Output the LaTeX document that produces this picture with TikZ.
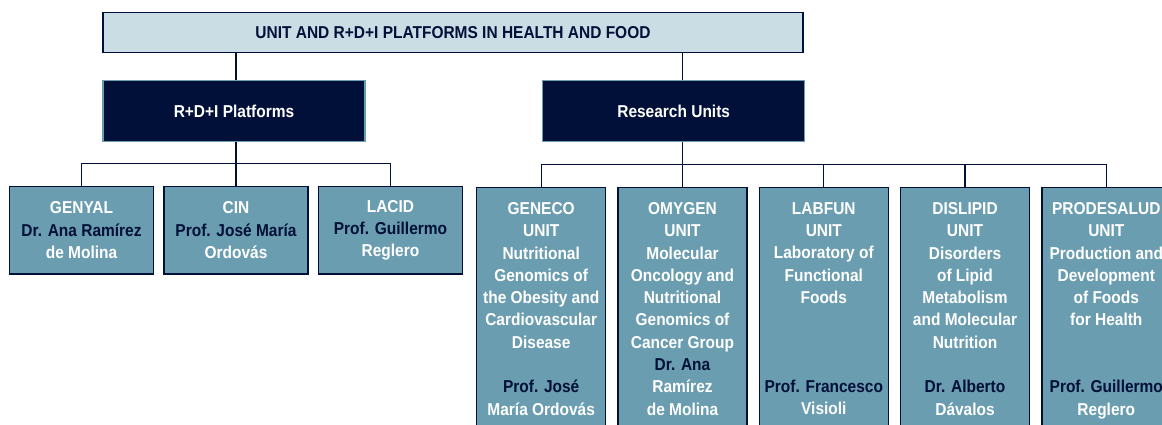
\documentclass[tikz,border=0pt]{standalone}
\usepackage{fontspec}
\setmainfont{Liberation Sans}[FakeStretch=0.9]
\usepackage{tikz}

\definecolor{navy}{RGB}{0,16,56}
\definecolor{pale}{RGB}{203,221,228}
\definecolor{steel}{RGB}{106,157,176}

\begin{document}
\begin{tikzpicture}[x=1pt,y=-1pt]
  \tikzstyle{title}=[rectangle,draw=navy,fill=pale,text=navy,line width=1.4pt,
              minimum width=700pt,minimum height=40pt,
              font=\fontsize{17.2}{22.3}\selectfont\bfseries]
  \tikzstyle{branch}=[rectangle,draw=steel,fill=navy,text=white,line width=1.4pt,
              minimum width=262pt,minimum height=61pt,
              font=\fontsize{17.2}{22.3}\selectfont\bfseries]
  \tikzstyle{platform}=[rectangle,draw=navy,fill=steel,text=white,line width=1.4pt,
              minimum width=144pt,minimum height=87.3pt,align=center,
              font=\fontsize{17.2}{22.3}\selectfont\bfseries]
  \tikzstyle{unitbox}=[platform,minimum width=129pt,minimum height=0pt,
              inner ysep=15pt,anchor=north]
  \tikzstyle{link}=[draw=navy,line width=1.2pt]
  \path[use as bounding box,clip] (0,0) rectangle (1162,424);
    \node [title] (head) at (453,32.7) {UNIT AND R+D+I PLATFORMS IN HEALTH AND FOOD};
    \node [branch] (rdi) at (234,111.2) {R+D+I Platforms};
    \node [branch] (research) at (673.7,111.2) {Research Units};
    % platforms
    \node [platform] (genyal) at (81.5,230.3) {GENYAL\\\color{navy}Dr. Ana Ramírez\\de Molina};
    \node [platform] (cin) at (236,230.3) {CIN\\\color{navy}Prof. José María\\Ordovás};
    \node [platform] (lacid) at (390.5,230.3) {LACID\\\color{navy}Prof. Guillermo\\Reglero};
    % research units
    \node [unitbox] (geneco) at (541.2,186.7) {GENECO\\UNIT\\Nutritional\\Genomics of\\the Obesity and\\Cardiovascular\\Disease\\~\\\color{navy}Prof. José\\María Ordovás};
    \node [unitbox] (omygen) at (682.5,186.7) {OMYGEN\\UNIT\\Molecular\\Oncology and\\Nutritional\\Genomics of\\Cancer Group\\\color{navy}Dr. Ana\\Ramírez\\de Molina};
    \node [unitbox] (labfun) at (823.8,186.7) {LABFUN\\UNIT\\Laboratory of\\Functional\\Foods\\~\\~\\~\\\color{navy}Prof. Francesco\\Visioli};
    \node [unitbox] (dislipid) at (965,186.7) {DISLIPID\\UNIT\\Disorders\\of Lipid\\Metabolism\\and Molecular\\Nutrition\\~\\\color{navy}Dr. Alberto\\Dávalos};
    \node [unitbox] (prodesalud) at (1106.3,186.7) {PRODESALUD\\UNIT\\Production and\\Development\\of Foods\\for Health\\~\\~\\\color{navy}Prof. Guillermo\\Reglero};
    % connectors
    \draw [link] (head.south -| cin) -- (rdi.north -| cin);
    \draw [link] (head.south -| omygen) -- (research.north -| omygen);
    \draw [link] (rdi.south -| cin) -- (cin.north);
    \draw [link] (research.south -| omygen) -- (omygen.north);
    \draw [link] (genyal.north) -- ++(0,-22.4) -| (lacid.north);
    \draw [link] (geneco.north) -- ++(0,-22.4) -| (prodesalud.north);
    \draw [link] (labfun.north) -- ++(0,-22.4);
    \draw [link] (dislipid.north) -- ++(0,-22.4);
\end{tikzpicture}
\end{document}
